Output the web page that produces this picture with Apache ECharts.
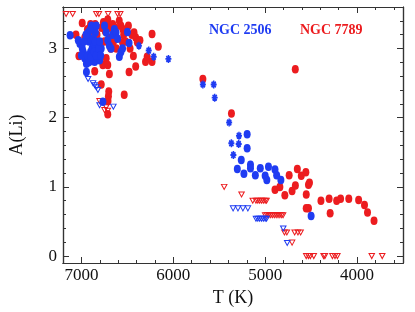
<!DOCTYPE html>
<html><head><meta charset="utf-8">
<script src="https://cdn.jsdelivr.net/npm/echarts@6/dist/echarts.min.js"></script>
<style>html,body{margin:0;padding:0;background:#fff}#c{width:415px;height:312px}</style>
</head><body><div id="c"></div>
<script>
// NGC 2506 dwarfs (blue filled circles): [Teff, A(Li)]
const ngc2506Dwarfs = [
 [7123,3.19],[7034,3.12],[7016,3.07],[6990,3.0],[6980,2.95],[6963,2.86],[6945,2.78],[6945,2.66],
 [6927,3.23],[6915,3.1],[6909,3.14],[6900,2.95],[6891,3.33],[6884,3.0],[6880,2.82],[6873,2.88],
 [6860,3.05],[6855,2.81],[6848,3.23],[6838,3.33],[6830,2.95],[6820,3.09],[6802,2.83],[6784,3.0],
 [7000,2.9],[6970,3.1],[6950,3.2],[6935,2.9],[6920,2.8],[6905,3.27],[6895,2.88],[6870,3.15],
 [6865,2.95],[6850,3.1],[6840,2.9],[6810,3.0],[6800,3.1],[6790,2.9],
 [6766,2.23],[6748,3.33],[6730,3.23],[6713,3.12],[6695,3.04],[6677,3.0],[6660,3.2],[6641,3.28],
 [6623,3.23],[6605,3.14],[6587,2.88],[6570,2.95],[6552,3.0],[6499,3.24],[6481,3.08],
 [5196,1.76],[5196,1.56],[5260,1.39],[5303,1.26],[5231,1.19],[5160,1.32],[5160,1.27],[5107,1.17],
 [5053,1.27],[5000,1.16],[4964,1.29],[4982,1.10],[4893,1.25],[4875,1.17],[4829,1.10],[4500,0.58]
];
// NGC 2506 evolved stars (blue asterisks)
const ngc2506Giants = [
 [6374,3.04],[6267,2.97],[6213,2.88],[6053,2.85],[5678,2.48],[5560,2.48],[5549,2.29],
 [5392,1.93],[5368,1.63],[5346,1.46],[5285,1.74],[5288,1.62]
];
// NGC 2506 upper limits (blue open triangles)
const ngc2506Limits = [
 [6927,2.56],[6873,2.50],[6855,2.47],[6837,2.44],[6820,2.40],[6802,2.18],[6652,2.16],
 [5349,0.69],[5296,0.69],[5242,0.69],[5188,0.69],
 [5100,0.54],[5080,0.54],[5060,0.54],[5040,0.54],[5020,0.54],[5000,0.54],[4985,0.54],
 [4803,0.40],[4760,0.19]
];
// NGC 7789 detections (red filled circles)
const ngc7789Det = [
 [7059,3.20],[6991,3.37],[7027,2.89],[6934,3.28],[6963,3.16],[6900,3.35],[6870,3.25],[6855,2.67],
 [6850,3.35],[6830,3.2],[6784,2.48],[6766,2.76],[6780,3.3],[6760,3.38],[6750,3.1],[6740,3.25],
 [6730,2.86],[6725,3.35],[6713,3.42],[6713,2.76],[6700,3.15],[6695,2.63],[6702,2.38],[6706,2.31],
 [6710,2.24],[6713,2.05],[6690,3.3],[6680,3.0],[6659,3.35],[6650,3.1],[6630,3.3],[6620,3.0],
 [6588,3.40],[6570,3.33],[6548,3.28],[6552,3.09],[6540,3.2],[6520,3.1],[6488,3.33],[6481,2.66],
 [6470,3.0],[6450,3.2],[6434,2.89],[6427,3.23],[6409,3.16],[6409,2.74],[6391,3.09],[6363,3.12],
 [6534,2.33],[6302,2.81],[6284,2.88],[6231,3.21],[6231,2.81],[6163,3.03],
 [5678,2.56],[5367,2.06],[4672,2.70],
 [4739,1.17],[4650,1.26],[4607,1.16],[4557,1.21],[4529,1.03],[4518,1.06],[4893,0.96],[4840,1.00],
 [4786,0.88],[4707,0.94],[4671,1.02],[4553,0.89],[4553,0.69],[4529,0.69],[4393,0.80],[4304,0.83],
 [4293,0.62],[4222,0.80],[4179,0.83],[4090,0.83],[3983,0.81],[3919,0.74],[3886,0.63],[3815,0.51]
];
// NGC 7789 upper limits (red open triangles)
const ngc7789Limits = [
 [7166,3.5],[7095,3.5],[6837,3.5],[6809,3.5],[6709,3.5],[6606,3.5],[6577,3.5],
 [6802,2.24],[6748,2.11],[6730,2.15],[6713,2.10],
 [5446,1.0],[5257,0.89],
 [5135,0.8],[5100,0.8],[5080,0.8],[5060,0.8],[5040,0.8],[5020,0.8],[5000,0.8],[4985,0.8],
 [5000,0.59],[4980,0.59],[4960,0.59],[4940,0.59],[4920,0.59],[4900,0.59],[4880,0.59],[4860,0.59],
 [4840,0.59],[4820,0.59],[4805,0.59],
 [4790,0.34],[4764,0.34],[4679,0.34],[4643,0.34],[4614,0.34],[4707,0.195],
 [4553,0],[4529,0],[4508,0],[4471,0],[4364,0],[4350,0],[4268,0],[4240,0],[4214,0],[3840,0],[3726,0]
];
// axis ticks
const xMajor = [4000,5000,6000,7000];
const xMinor = [3600,3800,4200,4400,4600,4800,5200,5400,5600,5800,6200,6400,6600,6800,7200];
const yMajor = [0,1,2,3];
const yMinor = [0.2,0.4,0.6,0.8,1.2,1.4,1.6,1.8,2.2,2.4,2.6,2.8,3.2,3.4];

const BLUE = '#1f3cf2', RED = '#ec1c1f', AX = '#333';
const FONT = '"Liberation Serif", "Times New Roman", serif';
const TRI = 'path://M0,0L10,0L5,9Z';
const AST = 'path://M5,0L5,10M0,5L10,5M1.5,1.5L8.5,8.5M8.5,1.5L1.5,8.5';

function xAx(pos, vals, len, labels, name) {
  return {type:'value', min:3500, max:7200, inverse:true, position:pos, gridIndex:0,
    axisLine:{show:true, onZero:false, lineStyle:{color:AX, width:1.2}},
    axisTick:{show:true, inside:true, length:len, customValues:vals, lineStyle:{color:AX, width:1}},
    axisLabel:{show:labels, customValues:vals, formatter:v => String(v), color:'#111', fontFamily:FONT, fontSize:17, margin:4},
    splitLine:{show:false},
    name:name||'', nameLocation:'middle', nameGap:26,
    nameTextStyle:{color:'#111', fontFamily:FONT, fontSize:18}};
}
function yAx(pos, vals, len, labels, name) {
  return {type:'value', min:-0.1, max:3.6, position:pos, gridIndex:0,
    axisLine:{show:true, onZero:false, lineStyle:{color:AX, width:1.2}},
    axisTick:{show:true, inside:true, length:len, customValues:vals, lineStyle:{color:AX, width:1}},
    axisLabel:{show:labels, customValues:vals, formatter:v => String(v), color:'#111', fontFamily:FONT, fontSize:17, margin:6},
    splitLine:{show:false},
    name:name||'', nameLocation:'middle', nameGap:37, nameRotate:90,
    nameTextStyle:{color:'#111', fontFamily:FONT, fontSize:18}};
}

const chart = echarts.init(document.getElementById('c'), null, {renderer:'canvas'});
chart.setOption({
  animation:false,
  grid:{left:57, right:12, top:7, bottom:44},
  xAxis:[xAx('bottom', xMajor, 6, true, 'T (K)'), xAx('bottom', xMinor, 3, false),
         xAx('top', xMajor, 6, false), xAx('top', xMinor, 3, false)],
  yAxis:[yAx('left', yMajor, 6, true, 'A(Li)'), yAx('left', yMinor, 3, false),
         yAx('right', yMajor, 6, false), yAx('right', yMinor, 3, false)],
  graphic:[
    {type:'text', left:209, top:23, style:{text:'NGC 2506', fill:BLUE, font:'bold 14px ' + FONT}},
    {type:'text', left:300, top:23, style:{text:'NGC 7789', fill:RED, font:'bold 14px ' + FONT}}
  ],
  series:[
    {type:'scatter', data:ngc7789Det, symbol:'circle', symbolSize:[7,8.5], itemStyle:{color:RED, opacity:1}},
    {type:'scatter', data:ngc7789Limits, symbol:TRI, symbolSize:[5.5,5],
      itemStyle:{color:'rgba(255,255,255,0)', borderColor:RED, borderWidth:1, opacity:1}},
    {type:'scatter', data:ngc2506Dwarfs, symbol:'circle', symbolSize:[7,8.5], itemStyle:{color:BLUE, opacity:1}},
    {type:'scatter', data:ngc2506Giants, symbol:AST, symbolSize:[6,8],
      itemStyle:{color:BLUE, borderColor:BLUE, borderWidth:1.7, opacity:1}},
    {type:'scatter', data:ngc2506Limits, symbol:TRI, symbolSize:[5.5,5],
      itemStyle:{color:'rgba(255,255,255,0)', borderColor:BLUE, borderWidth:1, opacity:1}}
  ]
});
</script></body></html>
